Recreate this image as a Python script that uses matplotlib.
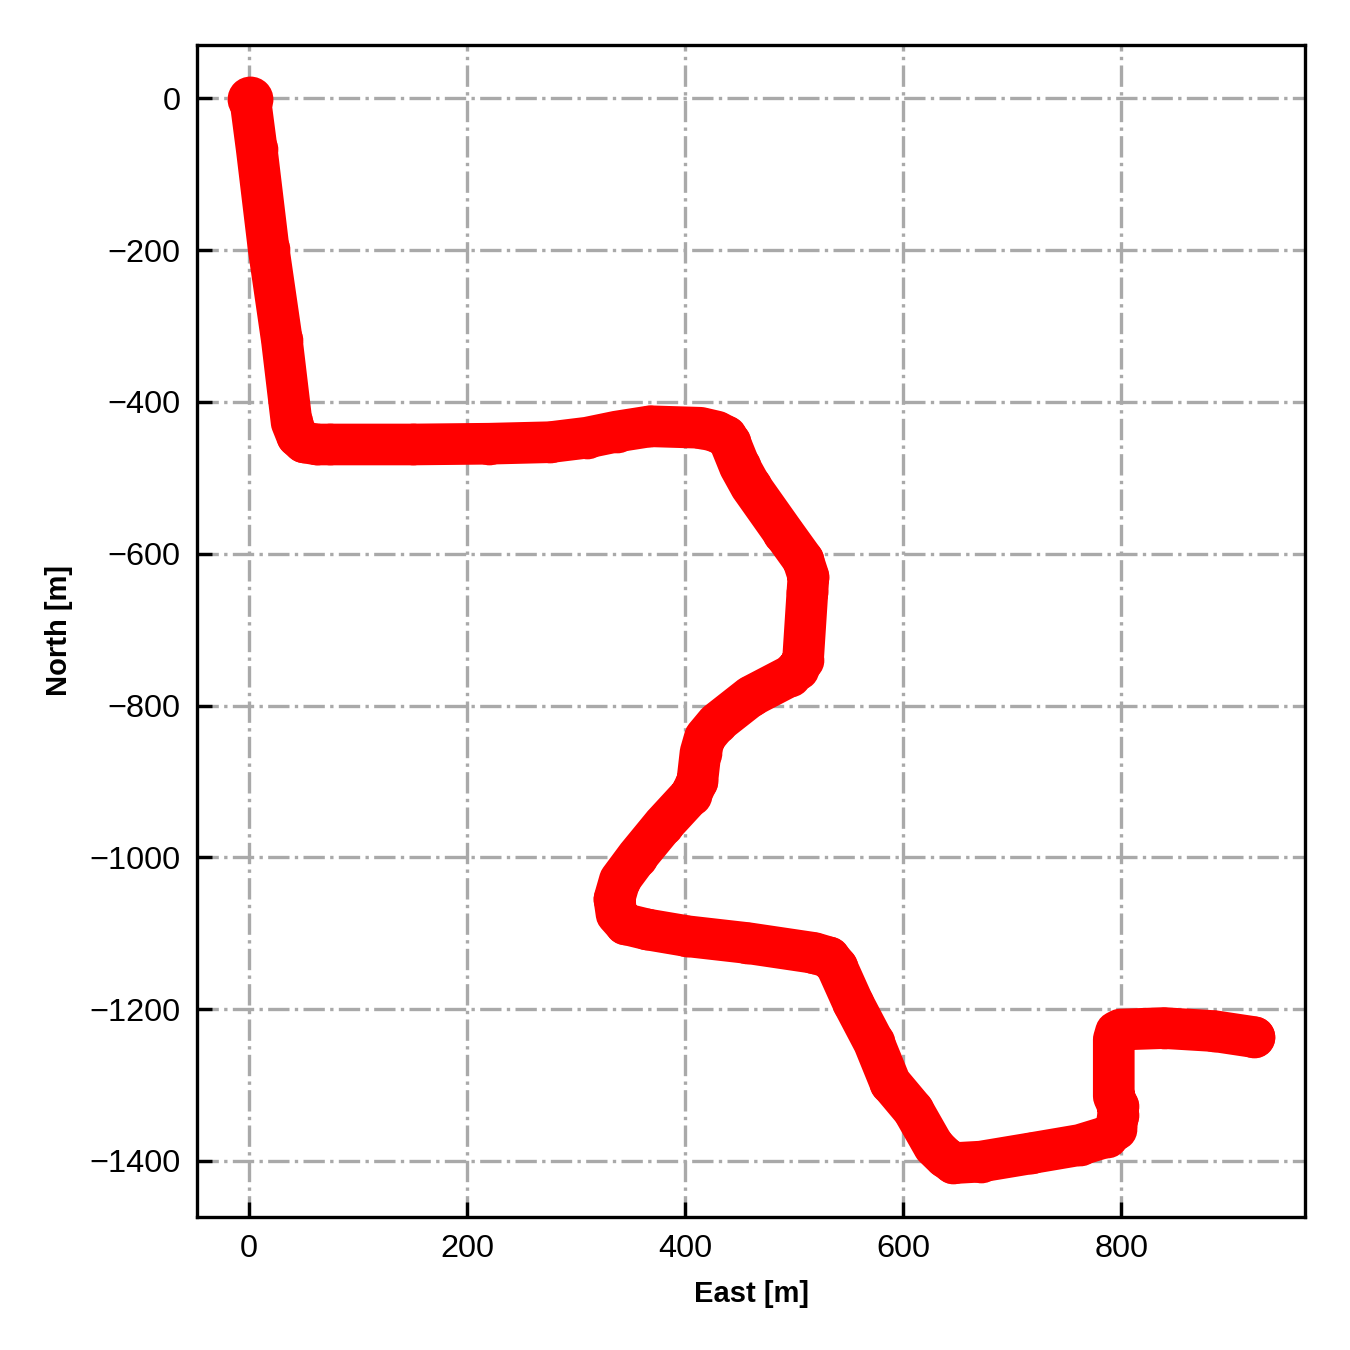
import numpy as np
import matplotlib.pyplot as plt

# trajectory waypoints (metres)
east = [1, 7, 18, 30, 39, 44, 50, 62, 74, 150, 220, 276, 310, 337, 368,
        414, 429, 437, 441, 450, 460, 490, 508, 513, 512, 508, 503, 496,
        460, 429, 418, 414, 411, 405, 380, 356, 340, 335, 337, 345, 365,
        402, 457, 518, 532, 539, 554, 573, 588, 609, 628, 638, 646, 671,
        717, 762, 787, 795, 797, 797, 793, 793, 795, 799, 839, 885, 922]
north = [-1, -67, -199, -318, -427, -445, -453, -456, -456, -456, -455,
         -453, -447, -439, -432, -434, -439, -445, -453, -485, -511, -572,
         -608, -630, -651, -740, -752, -761, -788, -823, -842, -862, -900,
         -918, -957, -999, -1030, -1055, -1075, -1088, -1095, -1104, -1113,
         -1126, -1132, -1144, -1192, -1244, -1297, -1333, -1381, -1395,
         -1403, -1401, -1390, -1379, -1368, -1358, -1340, -1328, -1315,
         -1240, -1230, -1227, -1225, -1229, -1237]

plt.rcParams['font.family'] = ['Liberation Sans', 'DejaVu Sans']

fig = plt.figure(figsize=(4.5, 4.5), dpi=300)
ax = fig.add_axes([0.146, 0.0985, 0.821, 0.8685])

ax.plot(east, north, 'o-', color='red', ms=10, lw=10, mew=0,
        solid_joinstyle='round', solid_capstyle='round', zorder=3)
ax.plot(east[:1], north[:1], 'o', color='red', ms=11, mew=0, zorder=3)

ax.set_xlim(-47.7, 968.8)
ax.set_ylim(-1474, 71)
ax.grid(True, color='darkgray', linestyle='-.', linewidth=0.8)
ax.set_axisbelow(True)
ax.tick_params(direction='in', length=3.5, width=0.8, labelsize=7.8, pad=4)
for s in ax.spines.values():
    s.set_linewidth(0.8)

ax.set_xticks([0, 200, 400, 600, 800])
ax.set_yticks([0, -200, -400, -600, -800, -1000, -1200, -1400])
ax.set_xlabel('East [m]', fontsize=7, fontweight='bold', labelpad=4)
ax.set_ylabel('North [m]', fontsize=7, fontweight='bold', labelpad=4)

plt.savefig('out.png', dpi=300)
